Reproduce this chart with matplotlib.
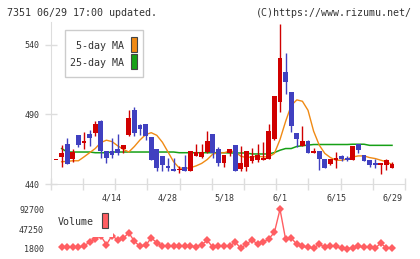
import numpy as np
import matplotlib
matplotlib.use("Agg")
import matplotlib.pyplot as plt
from matplotlib.patches import Rectangle
import matplotlib.transforms as mtransforms

# daily prices, 3/31 .. 6/29 (61 sessions)
opens = [457, 459.3, 468.6, 458, 475, 469.3, 475.7, 477, 485.2, 463.6,
         463.6, 465, 465, 475.5, 493, 482.5, 483.5, 473.8, 465, 460,
         452.9, 450.7, 449.9, 452, 449.5, 460.2, 459.5, 463, 475.7, 465,
         455.2, 462, 467.9, 450.5, 452.4, 456.4, 457.6, 457.1, 458.1, 472.1,
         499.3, 520.7, 506.4, 477, 467.4, 470.7, 462.4, 463.6, 457.9, 454.3,
         457.1, 460, 458.8, 457.6, 468.6, 460.7, 457.1, 455.2, 454, 453.6,
         451.7]
highs = [457, 467.9, 473, 465, 475.5, 477.4, 478.6, 485.2, 486.2, 463.6,
         473, 476, 468, 493.5, 495.3, 483.5, 483.5, 474, 465, 460,
         459, 458.4, 453, 460.7, 463.6, 469, 468.6, 478, 475.7, 466.7,
         460.7, 465.5, 467.9, 467, 463.6, 466, 468.6, 470.2, 483.3, 503.6,
         555, 534, 506.4, 477, 482, 472, 466, 463.6, 457.9, 458,
         463, 460.7, 460, 467.4, 469, 461, 457.1, 457.9, 455, 457.9,
         456]
lows = [457, 452.4, 454.5, 456, 466.7, 465, 467.4, 474.8, 458.4, 455,
        459, 461, 462, 474.7, 474.5, 475, 471.4, 457, 449.5, 449.5,
        449.5, 449.3, 447.6, 449.5, 449.5, 460.2, 459, 462.6, 458.4, 452.9,
        452.4, 460, 449.5, 449.5, 449.5, 454.8, 455.5, 457.1, 458.1, 471.4,
        492, 505, 477.4, 466.7, 467.4, 462.4, 462.4, 450, 451.7, 454,
        451.7, 456.4, 456.4, 457.6, 462.6, 456.6, 452.4, 451.7, 447.1, 450,
        451.7]
closes = [457, 462.6, 454.5, 463, 468, 470.7, 473, 483, 463.6, 458.4,
          461.2, 462.4, 468, 487.5, 477, 479.7, 474.5, 457.1, 451.6, 453.6,
          451.2, 449.3, 450.1, 449.5, 463.6, 463, 463, 470.7, 462.4, 454.8,
          460.7, 465.5, 449.5, 455.2, 463.6, 460, 460.7, 458.8, 477.9, 503,
          530.7, 513, 481.6, 472.6, 470.7, 462.4, 463.6, 457.9, 451.7, 457.9,
          458.8, 457.9, 457.1, 467.4, 464.3, 456.6, 453.6, 454, 454.3, 457.1,
          454.3]

ma5 = [np.nan, 456, 456.3, 456.7, 456.7, 459.5, 462.5, 465.5, 469.8, 471.5,
       470.5, 467.5, 465, 463, 467, 471.7, 475.5, 476.9, 475, 470,
       463, 456, 451.5, 451.2, 451.7, 453, 454.8, 457.6, 461.5, 462.5,
       462.4, 463.8, 463, 460, 459, 459.5, 460, 459.5, 459.5, 462,
       472, 485, 496.5, 500.5, 499.5, 493, 478, 468, 462, 459,
       457.1, 457.1, 458, 459.5, 460.2, 460.2, 459, 458.3, 457.1, 456,
       454]
ma25 = [np.nan, 465.5, 463, 463, 463, 463, 463, 462.5, 462.5, 462.5,
        463, 463, 463, 463, 463, 463, 463, 463, 463, 463,
        463, 463, 462.5, 462.5, 462.5, 462.5, 462.5, 462.5, 462.5, 462.5,
        462.5, 462.3, 462.3, 462.3, 462.3, 461.6, 461.6, 461.6, 461.6, 462.6,
        464.3, 465.5, 465.5, 467, 467.5, 468, 468.4, 468.4, 468.4, 468.4,
        468.4, 468.4, 468.4, 468.6, 468.6, 468.6, 467.8, 467.8, 467.8, 467.8,
        467.8]
volume = [np.nan, 7100, 5700, 5700, 5700, 9400, 17100, 25800, 31600, 11800,
          32700, 22400, 26300, 39000, 19000, 8000, 10000, 27000, 16300, 8700,
          8700, 9400, 9400, 8700, 8000, 7100, 11600, 21700, 5700, 8000,
          8000, 8000, 17800, 3400, 13200, 22400, 13200, 17100, 25000, 40000,
          92700, 24000, 27000, 12600, 8000, 5700, 3400, 13200, 5700, 8000,
          8000, 3400, 1800, 5000, 8000, 6300, 6300, 3400, 15500, 3400,
          3400]

date_pos = [10, 20, 30, 40, 50, 60]
date_labels = ["4/14", "4/28", "5/18", "6/1", "6/15", "6/29"]
price_ticks = [440, 490, 540]
vol_ticks = [1800, 47250, 92700]

W, H = 420, 259
RED = "#d00000"
BLUE = "#4040c0"
ORANGE = "#f08a14"
GREEN = "#16a016"
VOLC = "#ff5e62"
GRID = "#dddddd"
TXT = "#333333"
mono = "DejaVu Sans Mono"


def fx(x):
    return x / W


def fy(y):
    return 1 - y / H


fig = plt.figure(figsize=(W / 100, H / 100), dpi=100)
fig.patch.set_facecolor("white")

ax = fig.add_axes([fx(50.7), fy(184), (405 - 50.7) / W, (184 - 22) / H])
axv = fig.add_axes([fx(50.7), fy(253), (405 - 50.7) / W, (253 - 205) / H])

idx = np.arange(len(opens))
o = np.array(opens)
c = np.array(closes)
cols = [RED if cc >= oo else BLUE for oo, cc in zip(o, c)]
bottoms = np.minimum(o, c)
heights = np.maximum(np.abs(c - o), 0.8)

ax.plot(idx, ma25, color=GREEN, lw=1.1, zorder=2)
ax.plot(idx, ma5, color=ORANGE, lw=1.0, zorder=2)
ax.vlines(idx, lows, highs, colors=cols, lw=1, zorder=3)
ax.bar(idx, heights, bottom=bottoms, width=0.86, color=cols, linewidth=0, zorder=4)

xlim = (-0.95, 62.32)
ax.set_xlim(*xlim)
ax.set_ylim(440, 556.5)
for s in ["top", "right"]:
    ax.spines[s].set_visible(False)
for s in ["left", "bottom"]:
    ax.spines[s].set_color(GRID)
ax.set_xticks(np.linspace(xlim[0], xlim[1], 12))
ax.set_xticklabels([])
ax.set_yticks(price_ticks)
ax.set_yticklabels([str(t) for t in price_ticks], fontsize=6, family=mono, color=TXT)
ax.tick_params(axis="both", direction="inout", length=8, color=GRID, width=1)
ax.tick_params(axis="y", pad=4)
trans = mtransforms.blended_transform_factory(ax.transData, ax.transAxes)
for p, lab in zip(date_pos, date_labels):
    ax.text(p, -0.088, lab, transform=trans, ha="center", va="center",
            fontsize=6, family=mono, color=TXT)

# volume
axv.plot(idx, volume, color=VOLC, lw=1, marker="D", ms=4, mew=0, zorder=2)
axv.set_xlim(*xlim)
axv.set_ylim(-7360, 102560)
for s in axv.spines.values():
    s.set_visible(False)
axv.set_xticks([])
axv.set_yticks(vol_ticks)
axv.set_yticklabels([str(t) for t in vol_ticks], fontsize=6, family=mono, color=TXT)
axv.tick_params(axis="y", length=0, pad=4.8)

# price legend
fig.add_artist(Rectangle((fx(65), fy(77)), 78 / W, 47 / H, transform=fig.transFigure,
                         facecolor="white", edgecolor="#cccccc", lw=1, zorder=5))
fig.text(fx(124), fy(45.7), "5-day MA", ha="right", va="center", fontsize=7.2,
         family=mono, color=TXT, zorder=6)
fig.text(fx(124), fy(62.7), "25-day MA", ha="right", va="center", fontsize=7.2,
         family=mono, color=TXT, zorder=6)
fig.add_artist(Rectangle((fx(131), fy(51.7)), 6 / W, 14.4 / H, transform=fig.transFigure,
                         facecolor=ORANGE, edgecolor="#444444", lw=0.8, zorder=6))
fig.add_artist(Rectangle((fx(131), fy(68.7)), 6 / W, 14.4 / H, transform=fig.transFigure,
                         facecolor=GREEN, edgecolor="#444444", lw=0.8, zorder=6))

# volume legend (white box hides points under it)
fig.add_artist(Rectangle((fx(55), fy(236.5)), 58 / W, 31.5 / H, transform=fig.transFigure,
                         facecolor="white", edgecolor="none", zorder=5))
fig.text(fx(58), fy(222.3), "Volume", ha="left", va="center", fontsize=7.2,
         family=mono, color=TXT, zorder=6)
fig.add_artist(Rectangle((fx(101.7), fy(228.3)), 6 / W, 15 / H, transform=fig.transFigure,
                         facecolor=VOLC, edgecolor="#444444", lw=0.8, zorder=6))

fig.text(fx(7), fy(13), "7351 06/29 17:00 updated.", ha="left", va="center",
         fontsize=7.2, family=mono, color=TXT)
fig.text(fx(412), fy(13), "(C)https://www.rizumu.net/", ha="right", va="center",
         fontsize=7.2, family=mono, color=TXT)

fig.savefig("out.png", dpi=100, facecolor="white")
